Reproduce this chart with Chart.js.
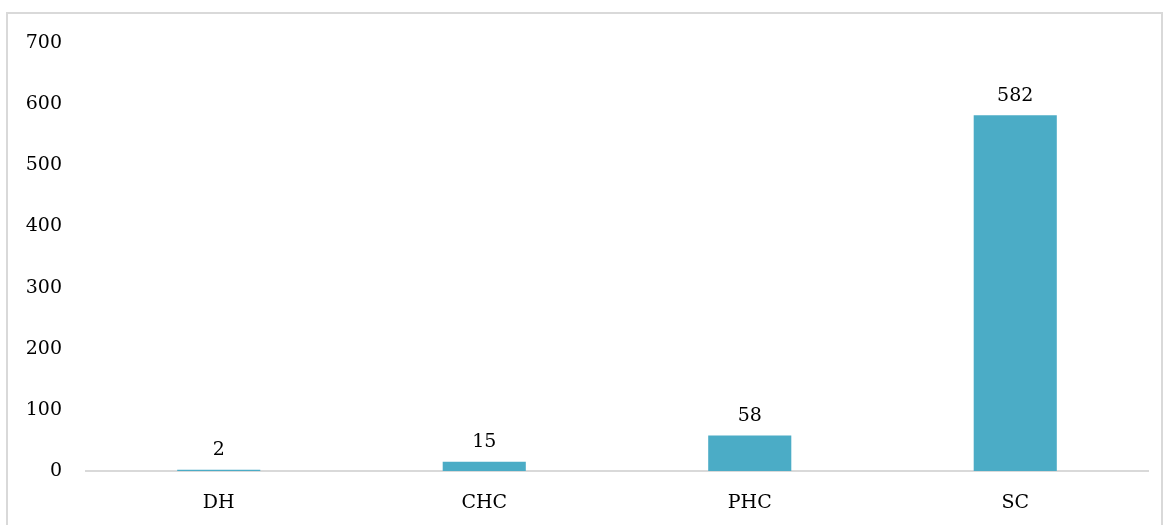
<!DOCTYPE html>
<html>
<head>
<meta charset="utf-8">
<script src="https://cdn.jsdelivr.net/npm/chart.js@4.4.0/dist/chart.umd.min.js"></script>
<style>
  html, body { margin: 0; padding: 0; background: #fff; }
  #wrap { position: relative; width: 1164px; height: 525px; }
</style>
</head>
<body>
<div id="wrap"><canvas id="grafico" width="1164" height="525"></canvas></div>
<script>
const categorias = ['DH', 'CHC', 'PHC', 'SC'];
const valores = [2, 15, 58, 582];
const yTicks = [0, 100, 200, 300, 400, 500, 600, 700];

const FONTE = '"DejaVu Serif", serif';

// moldura cinza clara do gráfico
const moldura = {
  id: 'moldura',
  beforeDraw(chart) {
    const c = chart.ctx;
    c.save();
    c.strokeStyle = '#d9d9d9';
    c.lineWidth = 2;
    c.beginPath();
    c.moveTo(7, 530);
    c.lineTo(7, 13);
    c.lineTo(1162, 13);
    c.lineTo(1162, 530);
    c.stroke();
    c.restore();
  }
};

// rótulos de valor acima das barras
const rotulos = {
  id: 'rotulos',
  afterDatasetsDraw(chart) {
    const c = chart.ctx;
    const meta = chart.getDatasetMeta(0);
    c.save();
    c.fillStyle = '#000';
    c.font = '19px ' + FONTE;
    c.textAlign = 'center';
    c.textBaseline = 'bottom';
    meta.data.forEach((bar, i) => {
      c.fillText(String(valores[i]), bar.x, bar.y - 10);
    });
    c.restore();
  }
};

new Chart(document.getElementById('grafico'), {
  type: 'bar',
  data: {
    labels: categorias,
    datasets: [{
      data: valores,
      backgroundColor: '#4bacc6',
      borderWidth: 0,
      barPercentage: 0.313,
      categoryPercentage: 1
    }]
  },
  options: {
    responsive: false,
    animation: false,
    layout: { padding: { top: 43, right: 16, bottom: 0, left: 0 } },
    plugins: { legend: { display: false }, tooltip: { enabled: false } },
    scales: {
      x: {
        grid: { display: false, drawTicks: false },
        border: { display: true, color: '#d9d9d9', width: 2 },
        ticks: { color: '#000', font: { family: FONTE, size: 19 }, padding: 21 },
        afterFit(scale) { scale.height = 54; }
      },
      y: {
        min: 0,
        max: 700,
        afterBuildTicks(scale) { scale.ticks = yTicks.map(v => ({ value: v })); },
        grid: { display: false, drawTicks: false },
        border: { display: false },
        ticks: { color: '#000', font: { family: FONTE, size: 19 }, padding: 24 },
        afterFit(scale) { scale.width = 86; }
      }
    }
  },
  plugins: [moldura, rotulos]
});
</script>
</body>
</html>
